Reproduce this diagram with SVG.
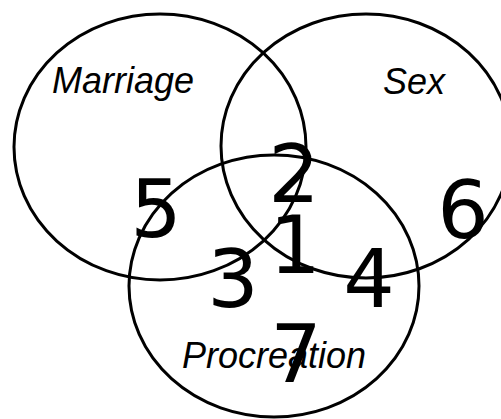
<svg xmlns="http://www.w3.org/2000/svg" width="501" height="419" viewBox="0 0 501 419">
<style>
.set{fill:none;stroke:#000;stroke-width:3}
.lbl{font-family:"Liberation Sans",Arial,sans-serif;font-style:italic;font-size:36px;fill:#000}
.num{font-family:"DejaVu Sans",Verdana,sans-serif;font-size:81px;fill:#000;text-anchor:middle}
</style>
<rect width="501" height="419" fill="#fff"/>
<g id="marriage">
<ellipse class="set" cx="160" cy="147" rx="146" ry="133"/>
<text class="lbl" x="52" y="93">Marriage</text>
</g>
<g id="sex">
<ellipse class="set" cx="366" cy="146" rx="145" ry="132"/>
<text class="lbl" x="383" y="94">Sex</text>
</g>
<g id="procreation">
<ellipse class="set" cx="274" cy="286" rx="145" ry="131"/>
<text class="lbl" x="182" y="368">Procreation</text>
</g>
<g id="regions">
<text class="num" x="156" y="237">5</text>
<text class="num" x="294" y="202">2</text>
<text class="num" x="295" y="273">1</text>
<text class="num" x="233" y="307">3</text>
<text class="num" x="369" y="307">4</text>
<text class="num" x="463" y="238">6</text>
<text class="num" x="296" y="382">7</text>
</g>
</svg>
